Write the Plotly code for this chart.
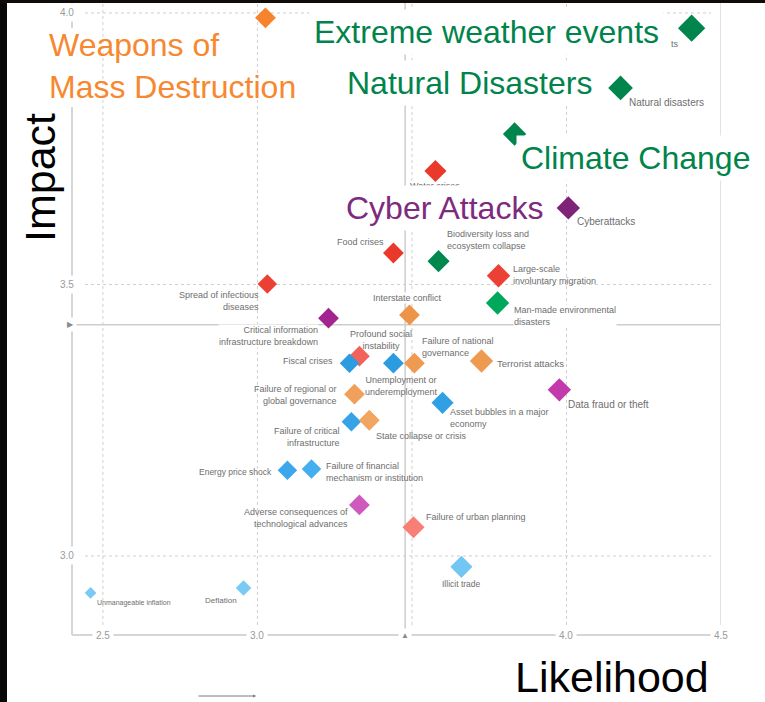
import plotly.graph_objects as go

# ---- data -----------------------------------------------------------------
risks = [
    "Weapons of mass destruction", "Extreme weather events", "Natural disasters",
    "Failure of climate-change mitigation and adaptation", "Water crises", "Cyberattacks",
    "Food crises", "Biodiversity loss and ecosystem collapse", "Large-scale involuntary migration",
    "Spread of infectious diseases", "Interstate conflict", "Man-made environmental disasters",
    "Critical information infrastructure breakdown", "Profound social instability", "Fiscal crises",
    "Unemployment or underemployment", "Failure of national governance", "Terrorist attacks",
    "Failure of regional or global governance", "Asset bubbles in a major economy",
    "Data fraud or theft", "Failure of critical infrastructure", "State collapse or crisis",
    "Energy price shock", "Failure of financial mechanism or institution",
    "Adverse consequences of technological advances", "Failure of urban planning",
    "Illicit trade", "Deflation", "Unmanageable inflation",
]
likelihood = [3.026, 4.405, 4.175, 3.832, 3.576, 4.006, 3.440, 3.586, 3.780, 3.032,
              3.492, 3.777, 3.230, 3.330, 3.298, 3.440, 3.508, 3.725, 3.314, 3.599,
              3.977, 3.304, 3.362, 3.097, 3.175, 3.330, 3.505, 3.660, 2.955, 2.460]
impact = [3.991, 3.972, 3.862, 3.777, 3.709, 3.641, 3.558, 3.543, 3.516, 3.501,
          3.444, 3.466, 3.438, 3.368, 3.355, 3.355, 3.355, 3.359, 3.298, 3.282,
          3.306, 3.247, 3.250, 3.158, 3.160, 3.094, 3.053, 2.980, 2.941, 2.932]

# caption printed next to each diamond ("" = none; the extreme-weather caption
# is tucked behind the large call-out, only its tail shows)
point_labels = [
    "", "ts", "Natural disasters", "", "Water crises", "Cyberattacks",
    "Food crises", "Biodiversity loss and<br>ecosystem collapse", "Large-scale<br>involuntary migration",
    "Spread of infectious<br>diseases", "Interstate conflict", "Man-made environmental<br>disasters",
    "Critical information<br>infrastructure breakdown", "Profound social<br>instability", "Fiscal crises",
    "Unemployment or<br>underemployment", "Failure of national<br>governance", "Terrorist attacks",
    "Failure of regional or<br>global governance", "Asset bubbles in a major<br>economy",
    "Data fraud or theft", "Failure of critical<br>infrastructure", "State collapse or crisis",
    "Energy price shock", "Failure of financial<br>mechanism or institution",
    "Adverse consequences of<br>technological advances", "Failure of urban planning",
    "Illicit trade", "Deflation", "Unmanageable inflation",
]

x_ticks = [2.5, 3.0, 4.0, 4.5]
x_tick_text = ["2.5", "3.0", "4.0", "4.5"]
y_ticks = [3.0, 3.5, 4.0]
y_tick_text = ["3.0", "3.5", "4.0"]
avg_likelihood = 3.478
avg_impact = 3.426

callouts = ["Weapons of<br>Mass Destruction", "Extreme weather events", "Natural Disasters",
            "Climate Change", "Cyber Attacks"]

# ---- styling --------------------------------------------------------------
colors = ["#F7842C", "#00864C", "#00864C", "#00864C", "#E8392B", "#7E2378",
          "#E8392B", "#00894F", "#EC4034", "#EC4034", "#ED9447", "#00A85C",
          "#A1248F", "#F0625A", "#2C9CE0", "#2C9CE0", "#EE9A50", "#EE9A50",
          "#F0A05A", "#30A0E5", "#C23AAB", "#36A3E6", "#F0A660", "#3CA8EB",
          "#44AEEE", "#CF5ABF", "#F87F75", "#72C6F2", "#7ACBF3", "#7ACBF3"]
marker_sizes = [16, 21, 19, 18, 17, 18, 16, 17, 18, 15, 16, 18, 16, 16, 15,
                16, 16, 18, 16, 17, 18, 15, 16, 15, 15, 16, 17, 17, 12, 9]
# (xanchor, dx px, dy px (down), align, font size, white backing)
label_place = [
    None, ("right", -12, 16, "right", 9, False), ("left", 7, 15, "left", 10, False), None,
    ("center", 0, 15, "center", 9, False), ("left", 8, 14, "left", 10, False),
    ("right", -8, -11, "right", 9, False), ("left", 7, -21, "left", 9, False),
    ("left", 14, -1, "left", 9, False), ("right", -7, 17, "right", 9, False),
    ("center", -2, -17, "center", 9, True), ("left", 15, 13, "left", 9, True),
    ("right", -10, 18, "right", 9, True), ("center", 22, -16, "center", 9, False),
    ("right", -16, -2, "right", 9, False), ("center", 8, 23, "center", 9, False),
    ("left", 7, -16, "left", 9, False), ("left", 15, 2, "left", 9.5, False),
    ("right", -16, 1, "right", 9, False), ("left", 6, 15, "left", 9, False),
    ("left", 8, 15, "left", 10, False), ("right", -10, 15, "right", 9, False),
    ("left", 6, 16, "left", 9, False), ("right", -14, 2, "right", 8.5, False),
    ("left", 13, 3, "left", 9, False), ("right", -10, 13, "right", 9, False),
    ("left", 11, -10, "left", 9, False), ("center", 0, 17, "center", 8.5, False),
    ("right", -6, 12, "right", 8, False), ("left", 5, 10, "left", 7, False),
]
callout_colors = ["#F7882F", "#00844B", "#00844B", "#00844B", "#7E2A7E"]
# (left px, centre-y px, white box drawn as annotation background)
callout_place = [(44, 66, False), (309, 32, True), (342, 83, True), (516, 158, True), (341, 208, True)]

W, H = 765, 702
L, R, T, B = 72, 44, 0, 67
PW, PH = W - L - R, H - T - B
X_RANGE = [2.4, 4.5]
Y_RANGE = [2.8545, 4.0239]
FONT = "Liberation Sans, Arial, sans-serif"
LABEL_GREY = "#6E6E6E"
GRID = "#CFCFCF"


def paper_x(px):
    return (px - L) / PW


def paper_y(py):
    return (T + PH - py) / PH


fig = go.Figure()
fig.add_trace(go.Scatter(
    x=likelihood, y=impact, mode="markers", text=risks, hoverinfo="text",
    marker=dict(symbol="diamond", size=marker_sizes, color=colors, opacity=1,
                line=dict(width=0)),
    cliponaxis=False, showlegend=False,
))

shapes = []
# dotted grid
for v in [2.5, 3.0, 3.5, 4.0]:
    shapes.append(dict(type="line", xref="x", yref="y", x0=v, x1=v, y0=2.873, y1=Y_RANGE[1],
                       line=dict(color=GRID, width=1, dash="dot"), layer="below"))
for v in y_ticks:
    shapes.append(dict(type="line", xref="x", yref="y", x0=2.442, x1=4.468, y0=v, y1=v,
                       line=dict(color=GRID, width=1, dash="dot"), layer="below"))
# right border at 4.5
shapes.append(dict(type="line", xref="x", yref="y", x0=4.5, x1=4.5, y0=2.873, y1=Y_RANGE[1],
                   line=dict(color="#D8D8D8", width=1.5), layer="below"))
# averages
shapes.append(dict(type="line", xref="x", yref="paper", x0=avg_likelihood, x1=avg_likelihood, y0=0, y1=1,
                   line=dict(color="#CDCDCD", width=1.5), layer="below"))
shapes.append(dict(type="line", xref="paper", yref="y", x0=0, x1=1, y0=avg_impact, y1=avg_impact,
                   line=dict(color="#CDCDCD", width=1.5), layer="below"))
# axis frame
shapes.append(dict(type="line", xref="paper", yref="paper", x0=0, x1=0, y0=0, y1=1,
                   line=dict(color="#D6D6D6", width=2), layer="below"))
shapes.append(dict(type="line", xref="paper", yref="paper", x0=0, x1=1, y0=0, y1=0,
                   line=dict(color="#D6D6D6", width=2), layer="below"))
# white panel behind the "Weapons" call-out (kept under the diamonds)
shapes.append(dict(type="rect", xref="paper", yref="paper", x0=paper_x(42), x1=paper_x(300),
                   y0=paper_y(107), y1=paper_y(28), fillcolor="white", line=dict(width=0),
                   layer="below"))
# dark page edges
shapes.append(dict(type="rect", xref="paper", yref="paper", x0=paper_x(0), x1=paper_x(7),
                   y0=paper_y(H), y1=paper_y(0), fillcolor="#080808", line=dict(width=0)))
shapes.append(dict(type="rect", xref="paper", yref="paper", x0=paper_x(0), x1=paper_x(W),
                   y0=paper_y(3), y1=paper_y(0), fillcolor="#120c08", line=dict(width=0)))

ann = []
# point captions
for xv, yv, txt, place in zip(likelihood, impact, point_labels, label_place):
    if place is None or not txt:
        continue
    xa, dx, dy, al, fs, backed = place
    a = dict(x=xv, y=yv, xref="x", yref="y", text=txt, showarrow=False,
             xanchor=xa, yanchor="middle", xshift=dx, yshift=-dy, align=al,
             font=dict(family=FONT, size=fs, color=LABEL_GREY), borderpad=0)
    if backed:
        a["bgcolor"] = "white"
    ann.append(a)
# tick labels
for v, t in zip(x_ticks, x_tick_text):
    ann.append(dict(x=v, y=0, xref="x", yref="paper", text=t, showarrow=False,
                    xanchor="center", yanchor="middle", bgcolor="white", borderpad=3,
                    font=dict(family=FONT, size=10, color="#9A9A9A")))
for v, t in zip(y_ticks, y_tick_text):
    ann.append(dict(x=paper_x(67), y=v, xref="paper", yref="y", text=t, showarrow=False,
                    xanchor="center", yanchor="middle", bgcolor="white", borderpad=3,
                    font=dict(family=FONT, size=10, color="#9A9A9A")))
# average markers on the axes
ann.append(dict(x=avg_likelihood, y=0, xref="x", yref="paper", text="▲", showarrow=False,
                xanchor="center", yanchor="middle", bgcolor="white", borderpad=2,
                font=dict(family=FONT, size=8, color="#8A8A8A")))
ann.append(dict(x=paper_x(70), y=avg_impact, xref="paper", yref="y", text="▶", showarrow=False,
                xanchor="center", yanchor="middle", bgcolor="white", borderpad=2,
                font=dict(family=FONT, size=8, color="#8A8A8A")))
# large call-outs
for txt, col, (lx, cy, boxed) in zip(callouts, callout_colors, callout_place):
    a = dict(x=paper_x(lx), y=paper_y(cy), xref="paper", yref="paper", text=txt,
             showarrow=False, xanchor="left", yanchor="middle", align="left", borderpad=4,
             font=dict(family=FONT, size=32, color=col))
    if boxed:
        a["bgcolor"] = "white"
    ann.append(a)
# axis titles
ann.append(dict(x=paper_x(40), y=paper_y(178), xref="paper", yref="paper", text="Impact",
                showarrow=False, textangle=-90, xanchor="center", yanchor="middle",
                font=dict(family=FONT, size=43, color="#000000")))
ann.append(dict(x=paper_x(711), y=paper_y(677), xref="paper", yref="paper", text="Likelihood",
                showarrow=False, xanchor="right", yanchor="middle",
                font=dict(family=FONT, size=43, color="#000000")))
# direction arrow under the x axis
ann.append(dict(x=paper_x(256), y=paper_y(696), xref="paper", yref="paper", text="",
                showarrow=True, axref="pixel", ayref="pixel", ax=-59, ay=0,
                arrowhead=2, arrowsize=0.6, arrowwidth=1, arrowcolor="#7A7A7A"))

fig.update_layout(
    width=W, height=H, margin=dict(l=L, r=R, t=T, b=B),
    paper_bgcolor="white", plot_bgcolor="white",
    xaxis=dict(range=X_RANGE, showgrid=False, zeroline=False, showticklabels=False,
               showline=False, ticks=""),
    yaxis=dict(range=Y_RANGE, showgrid=False, zeroline=False, showticklabels=False,
               showline=False, ticks=""),
    shapes=shapes, annotations=ann, showlegend=False,
)
fig.write_html("out.html")
